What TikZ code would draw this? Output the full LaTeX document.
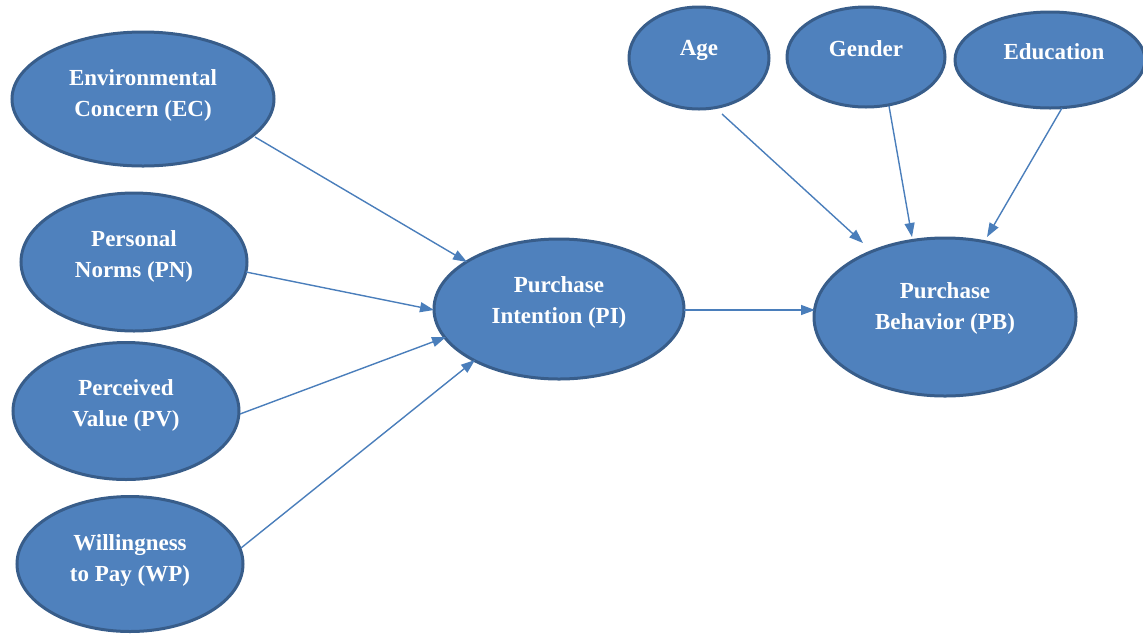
\documentclass[tikz,border=0pt]{standalone}
\usepackage{fontspec}
\setmainfont{Liberation Serif}
\usetikzlibrary{arrows.meta,shapes.geometric,calc}
\definecolor{fillb}{HTML}{4F81BD}
\definecolor{edgeb}{HTML}{385D8A}
\definecolor{lineb}{HTML}{4A7EBB}
\begin{document}
\begin{tikzpicture}[x=1pt,y=-1pt,
  oval/.style={ellipse,draw=edgeb,fill=fillb,line width=3pt,inner sep=0pt},
  lbl/.style={text=white,font=\fontsize{23}{31}\selectfont\bfseries,align=center,inner sep=0pt},
  arr/.style={draw=lineb,line width=1.4pt,-{Triangle[length=14pt,width=10pt]}}]
\useasboundingbox (0,0) rectangle (1143,633);
% ellipses
\node[oval,minimum width=262pt,minimum height=134pt] (ec) at (143,99) {};
\node[oval,minimum width=226pt,minimum height=138pt] (pn) at (134,262) {};
\node[oval,minimum width=226pt,minimum height=137pt] (pv) at (126,411) {};
\node[oval,minimum width=226pt,minimum height=135pt] (wp) at (130,564) {};
\node[oval,minimum width=250pt,minimum height=140pt] (pint) at (559,309) {};
\node[oval,minimum width=262pt,minimum height=158pt] (pb) at (945,317) {};
\node[oval,minimum width=140pt,minimum height=102pt] (age) at (699,58) {};
\node[oval,minimum width=158pt,minimum height=100pt] (gen) at (866,57) {};
\node[oval,minimum width=190pt,minimum height=96pt] (edu) at (1050,60) {};
% labels
\node[lbl] (ect) at ($(ec)+(0,-4)$) {Environmental\\Concern (EC)};
\node[lbl] (pnt) at ($(pn)+(0,-6)$) {Personal\\Norms (PN)};
\node[lbl] (pvt) at ($(pv)+(0,-6)$) {Perceived\\Value (PV)};
\node[lbl] (wpt) at ($(wp)+(0,-4)$) {Willingness\\to Pay (WP)};
\node[lbl] (pintt) at ($(pint)+(0,-7)$) {Purchase\\Intention (PI)};
\node[lbl] (pbt) at ($(pb)+(0,-9)$) {Purchase\\Behavior (PB)};
\node[lbl] (aget) at ($(age)+(0,-8)$) {Age};
\node[lbl] (gent) at ($(gen)+(0,-8)$) {Gender};
\node[lbl] (edut) at ($(edu)+(4,-8)$) {Education};
% connectors
\draw[arr] ($(ec)+(112,38)$) -- ($(pint)+(-92,-47)$);
\draw[arr] ($(pn)+(112,10)$) -- ($(pint)+(-125,1)$);
\draw[arr] ($(pv)+(114,3)$) -- ($(pint)+(-113,28)$);
\draw[arr] ($(wp)+(111,-16)$) -- ($(pint)+(-84,51)$);
\draw[arr] ($(pint)+(125,1)$) -- ($(pb)+(-130,-7)$);
\draw[arr] ($(age)+(23,56)$) -- ($(pb)+(-82,-74)$);
\draw[arr] ($(gen)+(23,49)$) -- ($(pb)+(-33,-80)$);
\draw[arr] ($(edu)+(12,48)$) -- ($(pb)+(42,-80)$);
\end{tikzpicture}
\end{document}
